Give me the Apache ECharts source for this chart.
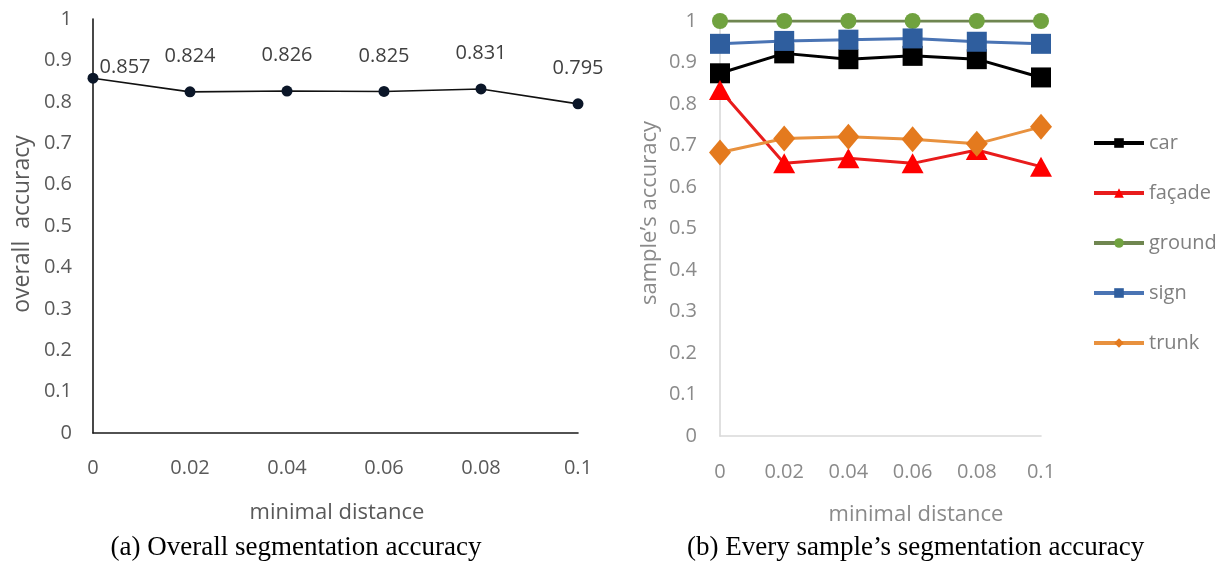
<!DOCTYPE html>
<html>
<head>
<meta charset="utf-8">
<script src="https://cdn.jsdelivr.net/npm/echarts/dist/echarts.min.js"></script>
<style>
  html, body { margin: 0; padding: 0; background: #fff; }
  #chart { width: 1225px; height: 564px; }
</style>
</head>
<body>
<div id="chart"></div>
<script>
// Minimal distance values shared by both panels
const distances = ['0', '0.02', '0.04', '0.06', '0.08', '0.1'];

// (a) overall accuracy
const overallAccuracy = [0.857, 0.824, 0.826, 0.825, 0.831, 0.795];

// (b) per-sample accuracy
const seriesNames = ['car', 'façade', 'ground', 'sign', 'trunk'];
const carAcc    = [0.874, 0.922, 0.908, 0.916, 0.908, 0.864];
const facadeAcc = [0.834, 0.657, 0.669, 0.657, 0.689, 0.649];
const groundAcc = [1, 1, 1, 1, 1, 1];
const signAcc   = [0.945, 0.952, 0.955, 0.958, 0.950, 0.945];
const trunkAcc  = [0.683, 0.717, 0.721, 0.715, 0.704, 0.745];

const sampleValues = [carAcc, facadeAcc, groundAcc, signAcc, trunkAcc];

const FONT = '"Open Sans", "Noto Sans", sans-serif';
const SERIF = '"Liberation Serif", "DejaVu Serif", serif';

// marker styling per sample series
const sampleStyle = [
  { line: '#000000', fill: '#000000', symbol: 'rect',     size: 20 },
  { line: '#e81c1c', fill: '#ff0000', symbol: 'triangle', size: [22, 20] },
  { line: '#6f8650', fill: '#70a23f', symbol: 'circle',   size: 16 },
  { line: '#4a74b4', fill: '#2f5e9e', symbol: 'rect',     size: 20 },
  { line: '#e8913e', fill: '#e47a1e', symbol: 'diamond',  size: [22, 26] }
];

const chart = echarts.init(document.getElementById('chart'), null, { renderer: 'canvas' });

const overallData = overallAccuracy.map((v, i) => {
  const item = { value: v };
  if (i === 0) {
    item.label = { position: 'right', distance: 1, offset: [0, -11] };
  }
  return item;
});

const sampleSeries = seriesNames.map((name, k) => ({
  name: name,
  type: 'line',
  xAxisIndex: 1,
  yAxisIndex: 1,
  data: sampleValues[k],
  symbol: sampleStyle[k].symbol,
  symbolSize: sampleStyle[k].size,
  lineStyle: { color: sampleStyle[k].line, width: 3 },
  itemStyle: { color: sampleStyle[k].fill },
  animation: false
}));

const option = {
  animation: false,
  grid: [
    { left: 93, top: 19, width: 485, height: 414 },
    { left: 720, top: 21, width: 321, height: 415 }
  ],
  xAxis: [
    {
      gridIndex: 0, type: 'category', data: distances, boundaryGap: false,
      axisLine: { lineStyle: { color: '#1a1a1a', width: 1.6 } },
      axisTick: { show: false },
      axisLabel: { color: '#595959', fontFamily: FONT, fontSize: 20, margin: 25 },
      splitLine: { show: false }
    },
    {
      gridIndex: 1, type: 'category', data: distances, boundaryGap: false,
      axisLine: { lineStyle: { color: '#d9d9d9', width: 1.6 } },
      axisTick: { show: false },
      axisLabel: { color: '#8a8a8a', fontFamily: FONT, fontSize: 20, margin: 26 },
      splitLine: { show: false }
    }
  ],
  yAxis: [
    {
      gridIndex: 0, type: 'value', min: 0, max: 1, interval: 0.1,
      axisLine: { show: true, lineStyle: { color: '#1a1a1a', width: 1.6 } },
      axisTick: { show: false },
      axisLabel: { color: '#595959', fontFamily: FONT, fontSize: 20, margin: 21 },
      splitLine: { show: false }
    },
    {
      gridIndex: 1, type: 'value', min: 0, max: 1, interval: 0.1,
      axisLine: { show: true, lineStyle: { color: '#d9d9d9', width: 1.6 } },
      axisTick: { show: false },
      axisLabel: { color: '#8a8a8a', fontFamily: FONT, fontSize: 20, margin: 23 },
      splitLine: { show: false }
    }
  ],
  legend: {
    orient: 'vertical',
    left: 1092,
    top: 133,
    padding: 0,
    itemWidth: 50,
    itemHeight: 12,
    itemGap: 30,
    data: seriesNames,
    lineStyle: { width: 4 },
    textStyle: { color: '#7f7f7f', fontFamily: FONT, fontSize: 20, lineHeight: 20 }
  },
  series: [
    {
      name: 'overall',
      type: 'line',
      xAxisIndex: 0,
      yAxisIndex: 0,
      data: overallData,
      symbol: 'circle',
      symbolSize: 11,
      lineStyle: { color: '#111111', width: 1.6 },
      itemStyle: { color: '#0b1628' },
      label: {
        show: true,
        position: 'top',
        distance: 20,
        color: '#404040',
        fontFamily: FONT,
        fontSize: 20,
        formatter: p => p.value.toFixed(3)
      },
      animation: false
    }
  ].concat(sampleSeries),
  graphic: [
    {
      type: 'text', x: 22, y: 224, rotation: Math.PI / 2,
      style: { text: 'overall  accuracy', fill: '#595959', font: '23px ' + FONT, align: 'center', verticalAlign: 'middle' }
    },
    {
      type: 'text', x: 650, y: 213, rotation: Math.PI / 2,
      style: { text: 'sample\u2019s accuracy', fill: '#8a8a8a', font: '22px ' + FONT, align: 'center', verticalAlign: 'middle' }
    },
    {
      type: 'text', x: 337, y: 513,
      style: { text: 'minimal distance', fill: '#595959', font: '22px ' + FONT, align: 'center', verticalAlign: 'middle' }
    },
    {
      type: 'text', x: 916, y: 515,
      style: { text: 'minimal distance', fill: '#8a8a8a', font: '22px ' + FONT, align: 'center', verticalAlign: 'middle' }
    },
    {
      type: 'text', x: 296, y: 548,
      style: { text: '(a) Overall segmentation accuracy', fill: '#000', font: '27px ' + SERIF, align: 'center', verticalAlign: 'middle' }
    },
    {
      type: 'text', x: 687, y: 548,
      style: { text: '(b) Every sample\u2019s segmentation accuracy', fill: '#000', font: '27px ' + SERIF, align: 'left', verticalAlign: 'middle' }
    }
  ]
};

chart.setOption(option);
</script>
</body>
</html>
